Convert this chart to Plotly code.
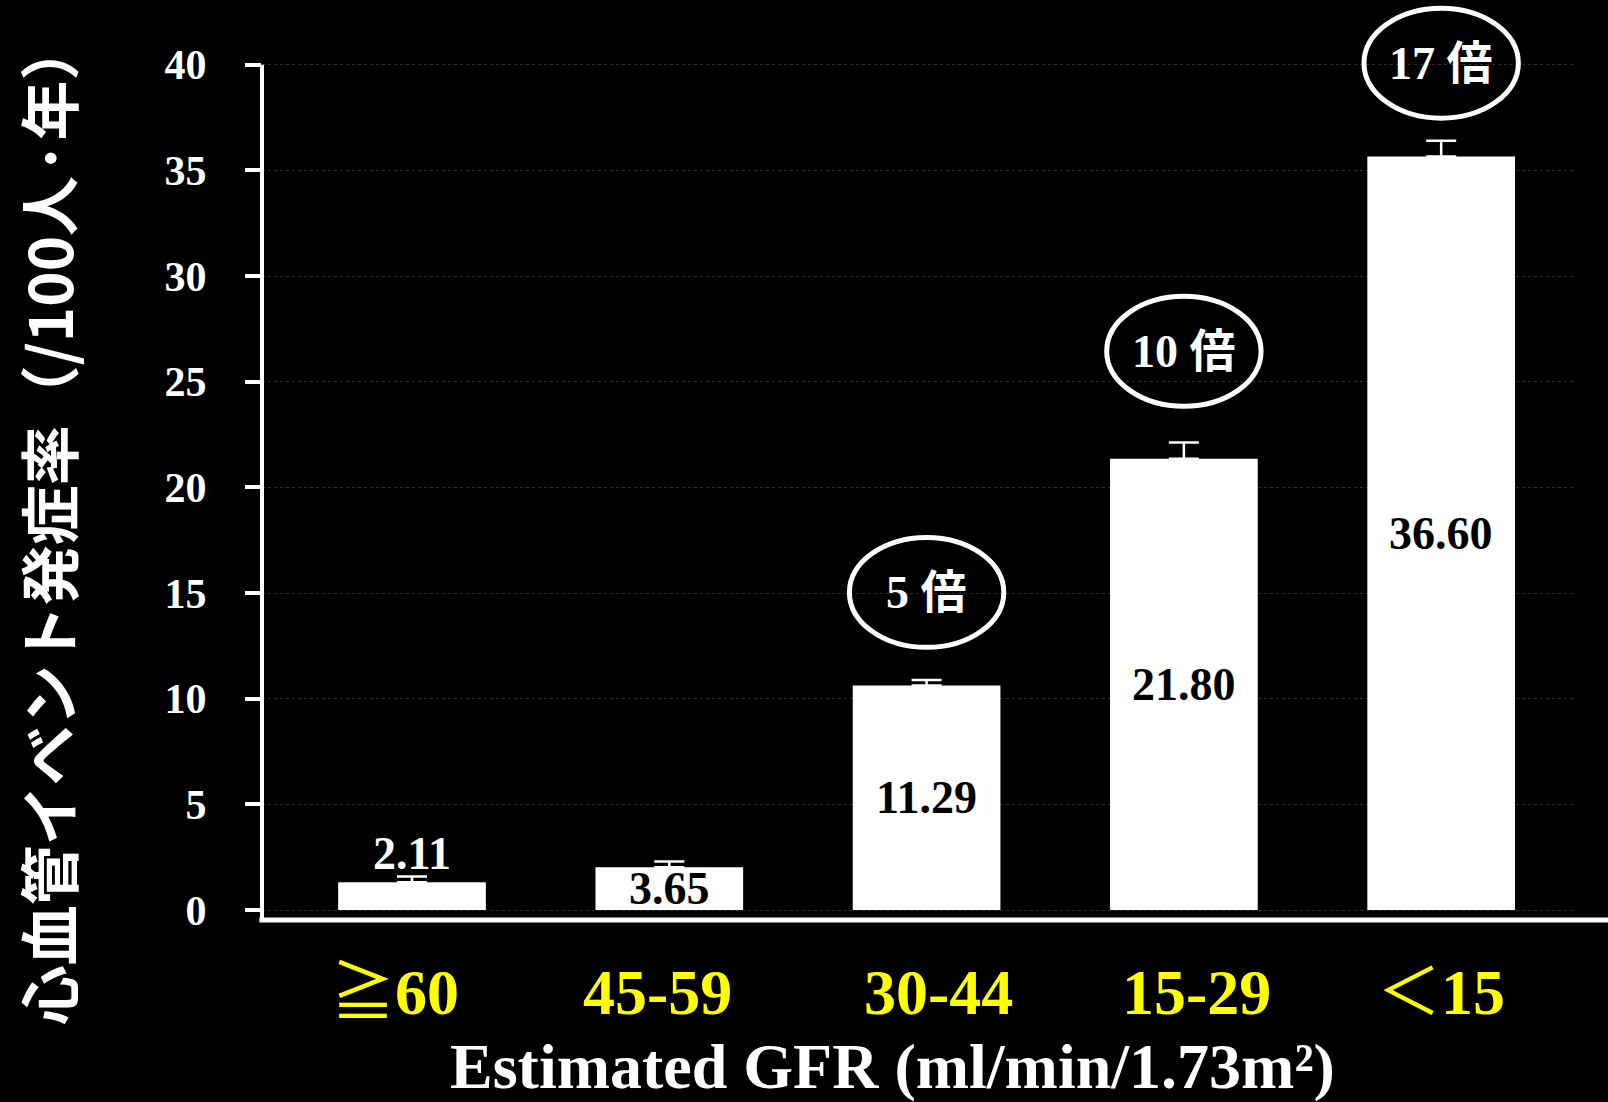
import plotly.graph_objects as go

# ---- data ----
categories = ["≧60", "45-59", "30-44", "15-29", "＜15"]
category_text = ["<span style='font-weight:normal'>≧</span>60", "45-59", "30-44", "15-29",
                 "<span style='font-weight:normal'>＜</span>15"]
bar_heights = [1.32, 2.02, 10.62, 21.35, 35.65]
error_tops = [1.59, 2.30, 10.89, 22.12, 36.40]
value_labels = ["2.11", "3.65", "11.29", "21.80", "36.60"]
ratio_labels = [None, None, "5 倍", "10 倍", "17 倍"]
y_tick_values = [0, 5, 10, 15, 20, 25, 30, 35, 40]
y_tick_labels = ["0", "5", "10", "15", "20", "25", "30", "35", "40"]
y_title = "心血管イベント発症率（/100人·年）"
x_title = "Estimated GFR (ml/min/1.73m²)"

# ---- layout constants ----
W, H = 1608, 1102
ML, MR, MT, MB = 262, 32, 4, 182
Y_MIN, Y_MAX = -0.47, 42.87
X_RANGE = [-0.583, 4.524]
SERIF = "Liberation Serif, Noto Sans CJK JP"
CJK = "Noto Sans CJK JP"

label_inside = [False, True, True, True, True]
label_colors = ["white", "black", "black", "black", "black"]
ratio_center_y = [None, None, 15.03, 26.44, 40.07]
cat_label_shift = [-17, -12, 12, 13, 0]

fig = go.Figure()
fig.add_trace(go.Bar(
    x=categories,
    y=bar_heights,
    width=0.574,
    marker=dict(color="white", line=dict(width=0)),
    error_y=dict(
        type="data",
        symmetric=False,
        array=[t - v for t, v in zip(error_tops, bar_heights)],
        arrayminus=[0] * len(bar_heights),
        color="white",
        thickness=2.5,
        width=15,
    ),
    hoverinfo="skip",
))

annotations = []
shapes = []

# value labels
for i, (c, v, lab) in enumerate(zip(categories, bar_heights, value_labels)):
    y = v / 2 if label_inside[i] else error_tops[i] + 1.1
    annotations.append(dict(
        x=c, y=y, xref="x", yref="y", text=lab, showarrow=False,
        xanchor="center", yanchor="middle",
        font=dict(family=SERIF, size=46, color=label_colors[i], weight="bold"),
    ))

# ratio ellipses
for i, (c, r) in enumerate(zip(categories, ratio_labels)):
    if r is None:
        continue
    cy = ratio_center_y[i]
    shapes.append(dict(
        type="circle", xref="x", yref="y",
        x0=i - 0.30, x1=i + 0.30, y0=cy - 2.6, y1=cy + 2.6,
        line=dict(color="white", width=5),
    ))
    annotations.append(dict(
        x=c, y=cy, xref="x", yref="y", text=r, showarrow=False,
        xanchor="center", yanchor="middle",
        font=dict(family=SERIF, size=46, color="white", weight="bold"),
    ))

# category labels
for i, c in enumerate(categories):
    annotations.append(dict(
        x=c, y=0, xref="x", yref="paper", text=category_text[i], showarrow=False,
        xanchor="center", yanchor="middle", xshift=cat_label_shift[i], yshift=-72,
        font=dict(family=SERIF, size=64, color="#FFFF00", weight="bold"),
    ))

# axis titles
annotations.append(dict(
    x=(892 - ML) / (W - ML - MR), y=0, xref="paper", yref="paper",
    text=x_title, showarrow=False, xanchor="center", yanchor="middle", yshift=-146,
    font=dict(family=SERIF, size=64, color="white", weight="bold"),
))
annotations.append(dict(
    x=(46 - ML) / (W - ML - MR), y=0.433, xref="paper", yref="paper",
    text=y_title, showarrow=False, textangle=-90,
    xanchor="center", yanchor="middle",
    font=dict(family=CJK, size=60, color="white", weight="bold"),
))

# axis lines
y40_paper = (40 - Y_MIN) / (Y_MAX - Y_MIN)
shapes.append(dict(type="line", xref="paper", yref="paper",
                   x0=0, x1=0, y0=0, y1=y40_paper,
                   line=dict(color="white", width=4)))
shapes.append(dict(type="line", xref="paper", yref="paper",
                   x0=-0.002, x1=(W - ML) / (W - ML - MR), y0=0, y1=0,
                   line=dict(color="white", width=5)))

fig.update_layout(
    width=W, height=H,
    margin=dict(l=ML, r=MR, t=MT, b=MB),
    paper_bgcolor="black",
    plot_bgcolor="black",
    showlegend=False,
    bargap=0.4,
    xaxis=dict(
        type="category", range=X_RANGE, showgrid=False, showline=False,
        zeroline=False, showticklabels=False, ticks="",
    ),
    yaxis=dict(
        range=[Y_MIN, Y_MAX], tickmode="array",
        tickvals=y_tick_values, ticktext=y_tick_labels,
        ticks="outside", ticklen=16, tickwidth=4, tickcolor="white",
        ticklabelstandoff=30,
        tickfont=dict(family=SERIF, size=42, color="white", weight="bold"),
        showgrid=True, gridcolor="#2e2e2e", griddash="dot", gridwidth=1,
        zeroline=False, showline=False,
    ),
    annotations=annotations,
    shapes=shapes,
)

fig.write_html(
    "out.html",
    config={"displayModeBar": False},
    post_script="document.body.style.margin='0';document.body.style.background='black';"
                "document.documentElement.style.overflow='hidden';",
)
